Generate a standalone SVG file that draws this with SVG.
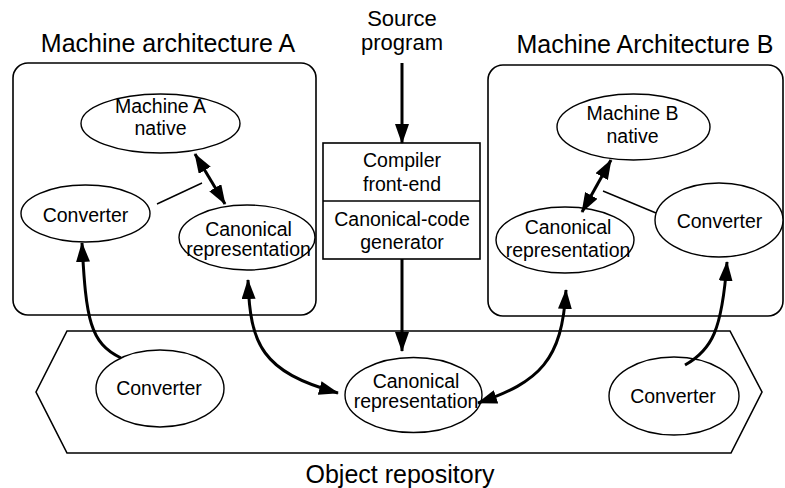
<svg xmlns="http://www.w3.org/2000/svg" width="785" height="488" viewBox="0 0 785 488">
<style>
text{font-family:"Liberation Sans",Arial,sans-serif;fill:#000;text-anchor:middle}
.t{font-size:25px}
.n{font-size:19.5px}
.s{font-size:22px}
.box{fill:none;stroke:#000;stroke-width:1.6}
.el{fill:#fff;stroke:#000;stroke-width:1.4}
.ar{fill:none;stroke:#000;stroke-width:3}
.ln{fill:none;stroke:#000;stroke-width:1.4}
</style>
<defs>
<marker id="ah" markerUnits="userSpaceOnUse" markerWidth="20" markerHeight="14" refX="19" refY="7" orient="auto-start-reverse" viewBox="0 0 20 14">
<path d="M0,0 L20,7 L0,14 z" fill="#000"/>
</marker>
</defs>
<rect width="785" height="488" fill="#fff"/>
<g id="repository">
<polygon class="box" points="36,392 67,331 730,331 762,392 731,453 67,453"/>
<text class="t" x="400" y="483">Object repository</text>
</g>
<g id="machineA">
<rect class="box" x="13" y="63" width="303" height="252" rx="15"/>
<text class="t" x="168" y="52">Machine architecture A</text>
</g>
<g id="machineB">
<rect class="box" x="488" y="65" width="295" height="251" rx="15"/>
<text class="t" x="645" y="53">Machine Architecture B</text>
</g>
<g id="source">
<text class="s" x="402" y="26">Source</text>
<text class="s" x="402" y="50">program</text>
</g>
<g id="compiler">
<rect class="box" x="323" y="143" width="157" height="116"/>
<line class="box" x1="323" y1="201" x2="480" y2="201"/>
<text class="n" x="402" y="167">Compiler</text>
<text class="n" x="402" y="191">front-end</text>
<text class="n" x="402" y="226">Canonical-code</text>
<text class="n" x="402" y="249">generator</text>
</g>
<g id="nativeA">
<ellipse class="el" cx="160.5" cy="123.5" rx="79.5" ry="29.5"/>
<text class="n" x="160.5" y="113">Machine A</text>
<text class="n" x="160.5" y="135">native</text>
</g>
<g id="converterA">
<ellipse class="el" cx="85.5" cy="213.5" rx="64.5" ry="28.5"/>
<text class="n" x="85.5" y="222">Converter</text>
</g>
<g id="canonicalA">
<ellipse class="el" cx="247" cy="237.5" rx="68" ry="32.5"/>
<text class="n" x="248.5" y="236">Canonical</text>
<text class="n" x="248.5" y="256">representation</text>
</g>
<g id="nativeB">
<ellipse class="el" cx="633.5" cy="127" rx="76.5" ry="33"/>
<text class="n" x="632.5" y="120">Machine B</text>
<text class="n" x="632.5" y="143">native</text>
</g>
<g id="canonicalB">
<ellipse class="el" cx="565" cy="240" rx="69" ry="33"/>
<text class="n" x="568" y="234">Canonical</text>
<text class="n" x="568" y="257">representation</text>
</g>
<g id="converterB">
<ellipse class="el" cx="719" cy="220" rx="64" ry="37"/>
<text class="n" x="719.5" y="228">Converter</text>
</g>
<g id="converterRepoL">
<ellipse class="el" cx="160" cy="388.5" rx="64" ry="38.5"/>
<text class="n" x="159" y="395">Converter</text>
</g>
<g id="canonicalRepo">
<ellipse class="el" cx="413.5" cy="395" rx="68.5" ry="37.5"/>
<text class="n" x="416" y="388">Canonical</text>
<text class="n" x="416" y="408">representation</text>
</g>
<g id="converterRepoR">
<ellipse class="el" cx="674" cy="396" rx="65" ry="39"/>
<text class="n" x="673" y="403">Converter</text>
</g>
<g id="connectors">
<line class="ar" x1="402" y1="63" x2="402" y2="143" marker-end="url(#ah)"/>
<line class="ar" x1="402" y1="259" x2="402" y2="351" marker-end="url(#ah)"/>
<line class="ar" x1="195" y1="154" x2="225" y2="204" marker-start="url(#ah)" marker-end="url(#ah)"/>
<line class="ar" x1="611" y1="160" x2="582" y2="212" marker-start="url(#ah)" marker-end="url(#ah)"/>
<line class="ln" x1="157" y1="204" x2="202" y2="183"/>
<line class="ln" x1="603" y1="191" x2="656" y2="213"/>
<path class="ar" d="M121,358 C90,343 86,320 82,243" marker-end="url(#ah)"/>
<path class="ar" d="M248,280 C250,345 262,372 338,393" marker-start="url(#ah)" marker-end="url(#ah)"/>
<path class="ar" d="M566,290 C562,360 540,382 478,403" marker-start="url(#ah)" marker-end="url(#ah)"/>
<path class="ar" d="M685,365 C712,350 722,330 727,262" marker-end="url(#ah)"/>
</g>
</svg>
